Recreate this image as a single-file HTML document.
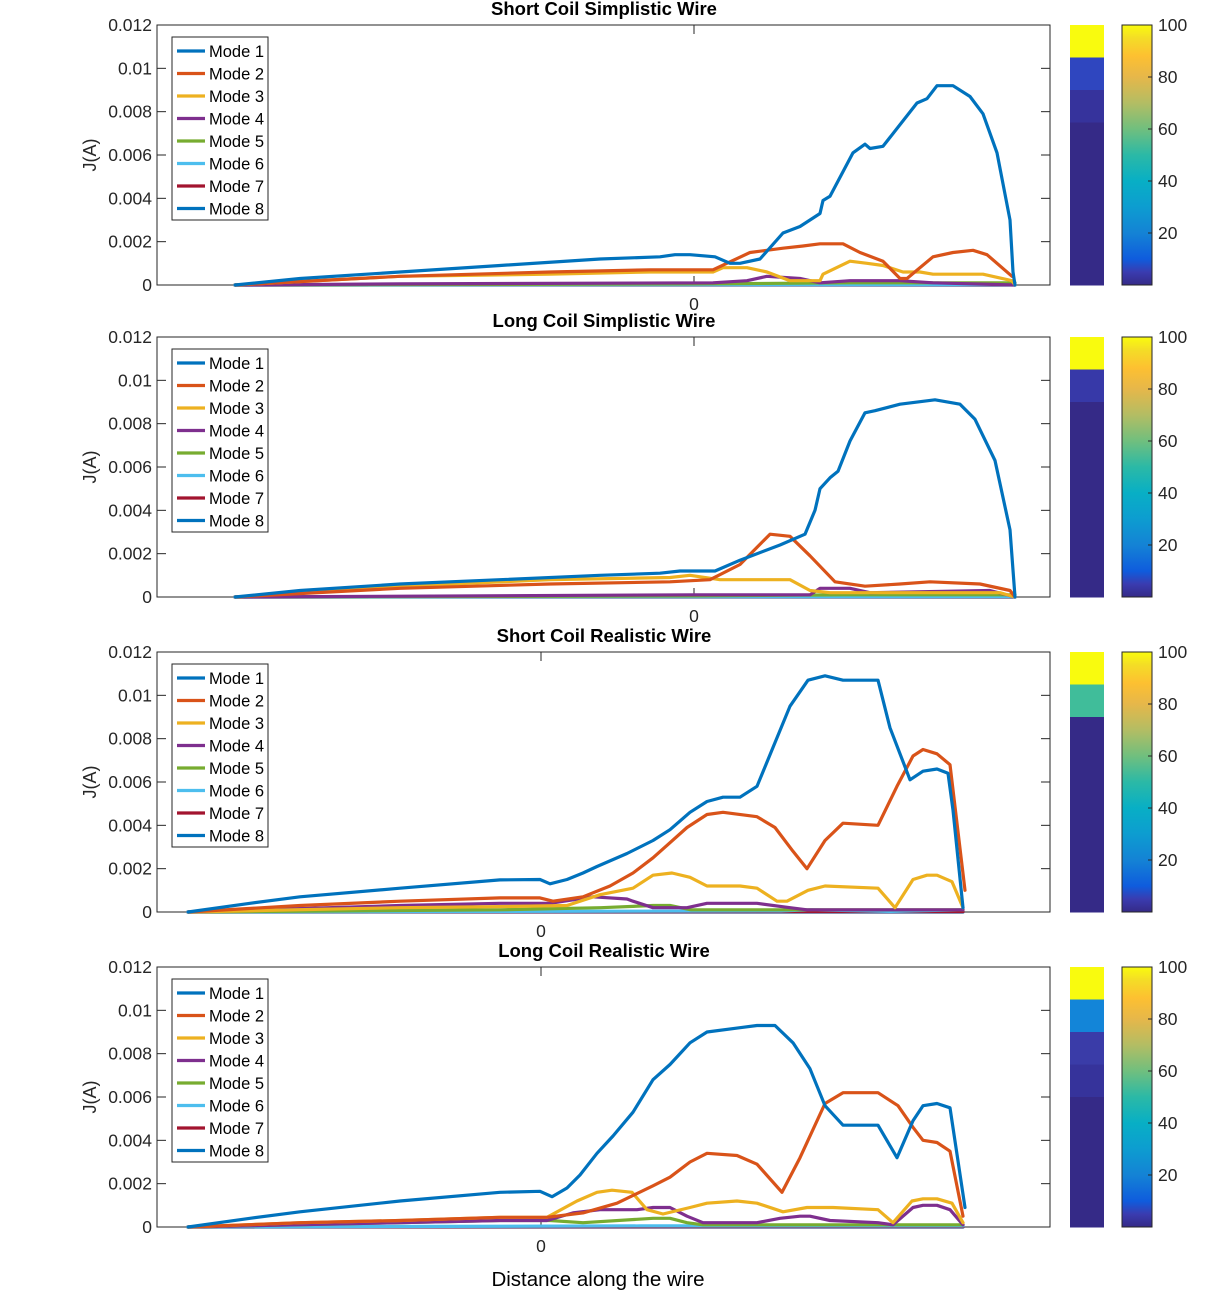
<!DOCTYPE html>
<html><head><meta charset="utf-8"><style>
html,body{margin:0;padding:0;background:#fff;}
svg{display:block;font-family:"Liberation Sans",Arial,sans-serif;}
</style></head><body>
<svg id="fig" width="1220" height="1300" xmlns="http://www.w3.org/2000/svg">
<defs>
<linearGradient id="parula" x1="0" y1="1" x2="0" y2="0">
<stop offset="0" stop-color="#352a87"/><stop offset="0.05" stop-color="#3a3cb0"/>
<stop offset="0.1" stop-color="#0f5cdd"/><stop offset="0.2" stop-color="#1483d5"/>
<stop offset="0.3" stop-color="#0d9dd0"/><stop offset="0.4" stop-color="#08afc5"/>
<stop offset="0.5" stop-color="#2bb9a6"/><stop offset="0.6" stop-color="#70bf7e"/>
<stop offset="0.7" stop-color="#b3bd63"/><stop offset="0.8" stop-color="#e6b74a"/>
<stop offset="0.88" stop-color="#fdc031"/><stop offset="0.95" stop-color="#f4dd26"/>
<stop offset="1" stop-color="#f9fb0e"/>
</linearGradient>
</defs>
<text x="598" y="1286" font-size="20.5" text-anchor="middle" fill="#000">Distance along the wire</text>
</svg>
<script>
const yTicks=[0,0.002,0.004,0.006,0.008,0.01,0.012];
const yTickLabels=["0","0.002","0.004","0.006","0.008","0.01","0.012"];
const cbTicks=[20,40,60,80,100];
const modeNames=["Mode 1","Mode 2","Mode 3","Mode 4","Mode 5","Mode 6","Mode 7","Mode 8"];
const titles=["Short Coil Simplistic Wire","Long Coil Simplistic Wire","Short Coil Realistic Wire","Long Coil Realistic Wire"];
const xDomains=[[-5.37,3.56],[-5.37,3.56],[-3.84,5.09],[-3.84,5.09]];
const cbColors=[
["#f9fb0e","#2f46bf","#36339c","#352a87","#352a87","#352a87","#352a87","#352a87"],
["#f9fb0e","#3739a8","#352a87","#352a87","#352a87","#352a87","#352a87","#352a87"],
["#f9fb0e","#40bd9a","#352a87","#352a87","#352a87","#352a87","#352a87","#352a87"],
["#f9fb0e","#1385d8","#3a3ca8","#36339b","#352a87","#352a87","#352a87","#352a87"]];
// Panel 1
const p1m1=[[-4.59,0],[-3.94,0.0003],[-2.94,0.0006],[-1.94,0.0009],[-0.94,0.0012],[-0.34,0.0013],[-0.19,0.0014],[-0.04,0.0014],[0.21,0.0013],[0.36,0.001],[0.46,0.001],[0.66,0.0012],[0.89,0.0024],[1.06,0.0027],[1.26,0.0033],[1.29,0.0039],[1.36,0.0041],[1.59,0.0061],[1.71,0.0065],[1.76,0.0063],[1.89,0.0064],[2.23,0.0084],[2.33,0.0086],[2.43,0.0092],[2.59,0.0092],[2.76,0.0087],[2.89,0.0079],[3.03,0.0061],[3.16,0.003],[3.19,0.0006],[3.21,0]];
const p1m2=[[-4.59,0],[-2.94,0.0004],[-1.44,0.0006],[-0.44,0.0007],[0.19,0.0007],[0.56,0.0015],[0.89,0.0017],[1.09,0.0018],[1.26,0.0019],[1.49,0.0019],[1.66,0.0015],[1.89,0.0011],[2.06,0.0003],[2.13,0.0003],[2.39,0.0013],[2.59,0.0015],[2.79,0.0016],[2.93,0.0014],[3.18,0.0004]];
const p1m3=[[-4.59,0],[-2.94,0.0004],[-1.44,0.0005],[-0.44,0.0006],[0.19,0.0006],[0.29,0.0008],[0.53,0.0008],[0.73,0.0006],[0.96,0.0002],[1.26,0.0002],[1.29,0.0005],[1.56,0.0011],[1.73,0.001],[1.89,0.0009],[2.09,0.0006],[2.26,0.0006],[2.39,0.0005],[2.89,0.0005],[3.18,0.0002],[3.21,0]];
const p1m4=[[-4.59,0],[-2.94,0.00005],[0.19,0.0001],[0.53,0.0002],[0.73,0.0004],[1.06,0.0003],[1.26,0.0001],[1.56,0.0002],[2.06,0.0002],[2.39,0.0001],[3.21,0]];
const p1m5=[[-4.59,0],[0,0.00005],[1.56,0.0001],[2.2,0.0001],[3.0,0.0001],[3.21,0.0001]];
const p1m6=[[-4.59,0],[3.21,0.00003]];
const p1m7=[[-4.59,0],[3.21,0.00002]];
const p1m8=[[-4.59,0],[3.21,0]];
// Panel 2
const p2m1=[[-4.59,0],[-3.94,0.0003],[-2.94,0.0006],[-1.94,0.0008],[-0.94,0.001],[-0.34,0.0011],[-0.14,0.0012],[0.21,0.0012],[0.46,0.0017],[0.86,0.0024],[1.11,0.0029],[1.21,0.004],[1.26,0.005],[1.36,0.0055],[1.44,0.0058],[1.56,0.0072],[1.71,0.0085],[1.81,0.0086],[2.06,0.0089],[2.41,0.0091],[2.66,0.0089],[2.81,0.0082],[3.01,0.0063],[3.16,0.0031],[3.21,0]];
const p2m2=[[-4.59,0],[-2.94,0.0004],[-1.44,0.0006],[-0.24,0.0007],[0.16,0.0008],[0.46,0.0015],[0.76,0.0029],[0.96,0.0028],[1.16,0.0019],[1.41,0.0007],[1.71,0.0005],[2.06,0.0006],[2.36,0.0007],[2.86,0.0006],[3.16,0.0003],[3.21,0]];
const p2m3=[[-4.59,0],[-2.94,0.0005],[-1.44,0.0008],[-0.24,0.0009],[-0.04,0.001],[0.26,0.0008],[0.96,0.0008],[1.16,0.0003],[1.36,0.0002],[3.06,0.0002],[3.21,0]];
const p2m4=[[-4.59,0],[0,0.0001],[1.16,0.0001],[1.26,0.0004],[1.56,0.0004],[1.76,0.0002],[2.96,0.0003],[3.21,0]];
const p2m5=[[-4.59,0],[0,0.00005],[1.5,0.0001],[3.21,0.0001]];
const p2m6=[[-4.59,0],[3.21,0.00003]];
const p2m7=[[-4.59,0],[3.21,0.00002]];
const p2m8=[[-4.59,0],[3.21,0]];
// Panel 3
const p3m1=[[-3.53,0],[-2.91,0.0004],[-2.41,0.0007],[-1.41,0.0011],[-0.41,0.00148],[-0.01,0.0015],[0.09,0.0013],[0.26,0.0015],[0.42,0.0018],[0.56,0.0021],[0.86,0.0027],[1.12,0.0033],[1.29,0.0038],[1.49,0.0046],[1.66,0.0051],[1.82,0.0053],[1.99,0.0053],[2.16,0.0058],[2.49,0.0095],[2.67,0.0107],[2.84,0.0109],[3.02,0.0107],[3.37,0.0107],[3.49,0.0085],[3.69,0.0061],[3.82,0.0065],[3.96,0.0066],[4.07,0.0064],[4.12,0.0047],[4.22,0.0002]];
const p3m2=[[-3.53,0],[-2.41,0.0003],[-1.41,0.0005],[-0.41,0.00065],[-0.01,0.00065],[0.12,0.0005],[0.42,0.0007],[0.69,0.0012],[0.92,0.0018],[1.12,0.0025],[1.29,0.0032],[1.46,0.0039],[1.66,0.0045],[1.82,0.0046],[2.16,0.0044],[2.34,0.0039],[2.52,0.0028],[2.66,0.002],[2.84,0.0033],[3.02,0.0041],[3.37,0.004],[3.56,0.0058],[3.72,0.0072],[3.82,0.0075],[3.96,0.0073],[4.09,0.0068],[4.24,0.001]];
const p3m3=[[-3.53,0],[-1.41,0.0002],[-0.41,0.00025],[0.26,0.0003],[0.59,0.0008],[0.92,0.0011],[1.12,0.0017],[1.31,0.0018],[1.49,0.0016],[1.66,0.0012],[1.99,0.0012],[2.16,0.0011],[2.36,0.0005],[2.46,0.0005],[2.67,0.001],[2.84,0.0012],[3.37,0.0011],[3.54,0.0002],[3.72,0.0015],[3.86,0.0017],[3.96,0.0017],[4.11,0.0014],[4.22,0.0002]];
const p3m4=[[-3.53,0],[-1.41,0.0003],[-0.41,0.0004],[0.09,0.0004],[0.52,0.0007],[0.86,0.0006],[0.92,0.0005],[1.12,0.0002],[1.46,0.0002],[1.66,0.0004],[2.16,0.0004],[2.49,0.0002],[2.66,0.0001],[4.22,0.0001]];
const p3m5=[[-3.53,0],[-0.41,0.0001],[0.6,0.0002],[1.12,0.0003],[1.29,0.0003],[1.5,0.0001],[4.22,0.0001]];
const p3m6=[[-3.53,0],[2.4,0.00005],[2.7,0.0001],[3.5,0.00003],[4.22,0.0001]];
const p3m7=[[-3.53,0],[4.22,0.00002]];
const p3m8=[[-3.53,0],[4.22,0]];
// Panel 4
const p4m1=[[-3.53,0],[-2.91,0.0004],[-2.41,0.0007],[-1.41,0.0012],[-0.41,0.0016],[-0.01,0.00165],[0.11,0.0014],[0.26,0.0018],[0.39,0.0024],[0.56,0.0034],[0.72,0.0042],[0.92,0.0053],[1.12,0.0068],[1.29,0.0075],[1.49,0.0085],[1.66,0.009],[1.99,0.0092],[2.16,0.0093],[2.34,0.0093],[2.52,0.0085],[2.69,0.0073],[2.84,0.0056],[3.02,0.0047],[3.37,0.0047],[3.56,0.0032],[3.72,0.0049],[3.82,0.0056],[3.96,0.0057],[4.09,0.0055],[4.24,0.0009]];
const p4m2=[[-3.53,0],[-2.41,0.0002],[-1.41,0.0003],[-0.41,0.00045],[0.06,0.00045],[0.42,0.00065],[0.76,0.0011],[1.12,0.0019],[1.29,0.0023],[1.49,0.003],[1.66,0.0034],[1.96,0.0033],[2.16,0.0029],[2.41,0.0016],[2.59,0.0032],[2.84,0.0057],[3.02,0.0062],[3.37,0.0062],[3.57,0.0056],[3.72,0.0046],[3.82,0.004],[3.96,0.0039],[4.09,0.0035],[4.22,0.0005]];
const p4m3=[[-3.53,0],[-2.41,0.0002],[-1.41,0.0003],[-0.41,0.00045],[0.06,0.00045],[0.36,0.0012],[0.56,0.0016],[0.71,0.0017],[0.91,0.0016],[1.06,0.0008],[1.22,0.0006],[1.49,0.0009],[1.66,0.0011],[1.96,0.0012],[2.16,0.0011],[2.42,0.0007],[2.66,0.0009],[2.92,0.0009],[3.37,0.0008],[3.52,0.0002],[3.71,0.0012],[3.82,0.0013],[3.96,0.0013],[4.11,0.0011],[4.22,0.0002]];
const p4m4=[[-3.53,0],[-1.41,0.0002],[-0.41,0.0003],[0.06,0.0003],[0.32,0.00065],[0.59,0.0008],[0.96,0.0008],[1.12,0.0009],[1.29,0.0009],[1.46,0.0005],[1.62,0.0002],[2.16,0.0002],[2.39,0.0004],[2.59,0.0005],[2.69,0.0005],[2.89,0.0003],[3.37,0.0002],[3.52,0.0001],[3.72,0.0009],[3.82,0.001],[3.96,0.001],[4.09,0.0008],[4.22,0.0001]];
const p4m5=[[-3.53,0],[-1.41,0.0002],[-0.41,0.0003],[0.09,0.0003],[0.42,0.0002],[1.12,0.0004],[1.29,0.0004],[1.46,0.0002],[1.62,0.0001],[4.22,0.0001]];
const p4m6=[[-3.53,0],[1.0,0.00005],[4.22,0.00005]];
const p4m7=[[-3.53,0],[4.22,0.00002]];
const p4m8=[[-3.53,0],[4.22,0]];

const series=[[p1m1,p1m2,p1m3,p1m4,p1m5,p1m6,p1m7,p1m8],[p2m1,p2m2,p2m3,p2m4,p2m5,p2m6,p2m7,p2m8],[p3m1,p3m2,p3m3,p3m4,p3m5,p3m6,p3m7,p3m8],[p4m1,p4m2,p4m3,p4m4,p4m5,p4m6,p4m7,p4m8]];
const colors=["#0072BD","#D95319","#EDB120","#7E2F8E","#77AC30","#4DBEEE","#A2142F","#0072BD"];
const tops=[25,337,652,967];
const AX_L=157,AX_R=1050,AX_H=260;
const NS="http://www.w3.org/2000/svg";
const svg=document.getElementById('fig');
function mk(tag,attrs,parent){const e=document.createElementNS(NS,tag);for(const k in attrs)e.setAttribute(k,attrs[k]);(parent||svg).appendChild(e);return e;}
for(let p=0;p<4;p++){
  const top=tops[p],bot=top+AX_H,dom=xDomains[p];
  const xs=v=>AX_L+(v-dom[0])/(dom[1]-dom[0])*(AX_R-AX_L);
  const ys=v=>bot-v/0.012*AX_H;
  const g=mk('g',{});
  
  
  const box=mk('rect',{x:AX_L,y:top,width:AX_R-AX_L,height:AX_H,fill:'#fff',stroke:'#262626','stroke-width':1},g);
  
  
  yTicks.forEach((t,i)=>{
    const y=ys(t);
    mk('line',{x1:AX_L,x2:AX_L+9,y1:y,y2:y,stroke:'#262626'},g);
    mk('line',{x1:AX_R,x2:AX_R-9,y1:y,y2:y,stroke:'#262626'},g);
    const tl=mk('text',{x:AX_L-5,y:y+6,'font-size':17.5,'text-anchor':'end',fill:'#262626'},g);
    tl.textContent=yTickLabels[i];
    
    
  });
  const x0=xs(0);
  mk('line',{x1:x0,x2:x0,y1:bot,y2:bot-9,stroke:'#262626'},g);
  mk('line',{x1:x0,x2:x0,y1:top,y2:top+9,stroke:'#262626'},g);
  const xl=mk('text',{x:x0,y:bot+25,'font-size':17.5,'text-anchor':'middle',fill:'#262626'},g);
  xl.textContent='0';
  
  
  const yl=mk('text',{x:0,y:0,'font-size':18,'text-anchor':'middle',fill:'#262626',transform:`translate(96,${top+130}) rotate(-90)`},g);
  yl.textContent='J(A)';
  
  
  const tt=mk('text',{x:604,y:top-10,'font-size':18.5,'font-weight':'bold','text-anchor':'middle',fill:'#000'},g);
  tt.textContent=titles[p];
  
  
  for(let m=7;m>=0;m--){
    const d=series[p][m].map((pt,i)=>(i?'L':'M')+xs(pt[0]).toFixed(1)+','+ys(pt[1]).toFixed(1)).join('');
    const path=mk('path',{d:d,fill:'none',stroke:colors[m],'stroke-width':3.2,'stroke-linejoin':'round','stroke-linecap':'round'},g);
    
    
  }
  const lg=mk('g',{},g);
  
  
  mk('rect',{x:172,y:top+12,width:96,height:183,fill:'#fff',stroke:'#262626'},lg);
  modeNames.forEach((n,i)=>{
    const yy=top+26+i*22.5;
    mk('line',{x1:177,x2:205,y1:yy,y2:yy,stroke:colors[i],'stroke-width':3.2},lg);
    const t=mk('text',{x:209,y:yy+6,'font-size':16.5,fill:'#000'},lg);
    t.textContent=n;
    
    
  });
  const cb=mk('g',{},g);
  
  
  cbColors[p].forEach((c,i)=>{
    mk('rect',{x:1070,y:top+i*AX_H/8,width:34,height:AX_H/8+0.5,fill:c},cb);
  });
  const sc=mk('g',{},g);
  
  
  mk('rect',{x:1122,y:top,width:30,height:AX_H,fill:'url(#parula)',stroke:'#262626'},sc);
  cbTicks.forEach(t=>{
    const y=bot-t/100*AX_H;
    mk('line',{x1:1152,x2:1148,y1:y,y2:y,stroke:'#262626'},sc);
    const tl=mk('text',{x:1158,y:y+6,'font-size':17.5,fill:'#262626'},sc);
    tl.textContent=String(t);
    
    
  });
}
</script>
</body></html>
